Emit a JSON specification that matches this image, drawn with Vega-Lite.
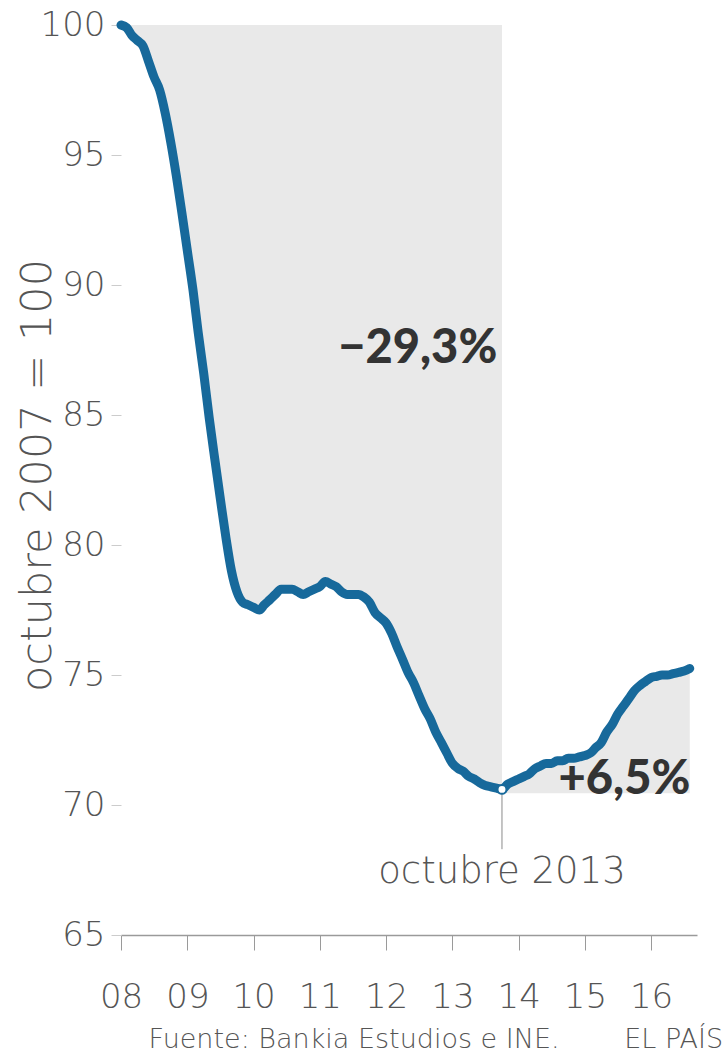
{
  "$schema": "https://vega.github.io/schema/vega-lite/v6.json",
  "width": 576,
  "height": 910,
  "autosize": {"type": "none"},
  "padding": {"left": 121, "top": 25, "right": 28, "bottom": 121},
  "background": "white",
  "config": {"view": {"stroke": null}},
  "datasets": {
    "serie": [
      {"date": "2008-01-01", "value": 100.0},
      {"date": "2008-02-01", "value": 99.9},
      {"date": "2008-03-01", "value": 99.6},
      {"date": "2008-04-01", "value": 99.4},
      {"date": "2008-05-01", "value": 99.2},
      {"date": "2008-06-01", "value": 98.6},
      {"date": "2008-07-01", "value": 98.0},
      {"date": "2008-08-01", "value": 97.5},
      {"date": "2008-09-01", "value": 96.6},
      {"date": "2008-10-01", "value": 95.5},
      {"date": "2008-11-01", "value": 94.2},
      {"date": "2008-12-01", "value": 92.8},
      {"date": "2009-01-01", "value": 91.3},
      {"date": "2009-02-01", "value": 89.8},
      {"date": "2009-03-01", "value": 88.2},
      {"date": "2009-04-01", "value": 86.6},
      {"date": "2009-05-01", "value": 84.9},
      {"date": "2009-06-01", "value": 83.3},
      {"date": "2009-07-01", "value": 81.8},
      {"date": "2009-08-01", "value": 80.3},
      {"date": "2009-09-01", "value": 79.0},
      {"date": "2009-10-01", "value": 78.2},
      {"date": "2009-11-01", "value": 77.8},
      {"date": "2009-12-01", "value": 77.7},
      {"date": "2010-01-01", "value": 77.6},
      {"date": "2010-02-01", "value": 77.5},
      {"date": "2010-03-01", "value": 77.7},
      {"date": "2010-04-01", "value": 77.9},
      {"date": "2010-05-01", "value": 78.1},
      {"date": "2010-06-01", "value": 78.3},
      {"date": "2010-07-01", "value": 78.3},
      {"date": "2010-08-01", "value": 78.3},
      {"date": "2010-09-01", "value": 78.2},
      {"date": "2010-10-01", "value": 78.1},
      {"date": "2010-11-01", "value": 78.2},
      {"date": "2010-12-01", "value": 78.3},
      {"date": "2011-01-01", "value": 78.4},
      {"date": "2011-02-01", "value": 78.6},
      {"date": "2011-03-01", "value": 78.5},
      {"date": "2011-04-01", "value": 78.4},
      {"date": "2011-05-01", "value": 78.2},
      {"date": "2011-06-01", "value": 78.1},
      {"date": "2011-07-01", "value": 78.1},
      {"date": "2011-08-01", "value": 78.1},
      {"date": "2011-09-01", "value": 78.0},
      {"date": "2011-10-01", "value": 77.8},
      {"date": "2011-11-01", "value": 77.4},
      {"date": "2011-12-01", "value": 77.2},
      {"date": "2012-01-01", "value": 77.0},
      {"date": "2012-02-01", "value": 76.6},
      {"date": "2012-03-01", "value": 76.1},
      {"date": "2012-04-01", "value": 75.6},
      {"date": "2012-05-01", "value": 75.1},
      {"date": "2012-06-01", "value": 74.7},
      {"date": "2012-07-01", "value": 74.2},
      {"date": "2012-08-01", "value": 73.7},
      {"date": "2012-09-01", "value": 73.3},
      {"date": "2012-10-01", "value": 72.8},
      {"date": "2012-11-01", "value": 72.4},
      {"date": "2012-12-01", "value": 72.0},
      {"date": "2013-01-01", "value": 71.6},
      {"date": "2013-02-01", "value": 71.4},
      {"date": "2013-03-01", "value": 71.3},
      {"date": "2013-04-01", "value": 71.1},
      {"date": "2013-05-01", "value": 71.0},
      {"date": "2013-06-01", "value": 70.85},
      {"date": "2013-07-01", "value": 70.75},
      {"date": "2013-08-01", "value": 70.7},
      {"date": "2013-09-01", "value": 70.65},
      {"date": "2013-10-01", "value": 70.6},
      {"date": "2013-11-01", "value": 70.8},
      {"date": "2013-12-01", "value": 70.9},
      {"date": "2014-01-01", "value": 71.0},
      {"date": "2014-02-01", "value": 71.1},
      {"date": "2014-03-01", "value": 71.2},
      {"date": "2014-04-01", "value": 71.4},
      {"date": "2014-05-01", "value": 71.5},
      {"date": "2014-06-01", "value": 71.6},
      {"date": "2014-07-01", "value": 71.6},
      {"date": "2014-08-01", "value": 71.7},
      {"date": "2014-09-01", "value": 71.7},
      {"date": "2014-10-01", "value": 71.8},
      {"date": "2014-11-01", "value": 71.8},
      {"date": "2014-12-01", "value": 71.85},
      {"date": "2015-01-01", "value": 71.9},
      {"date": "2015-02-01", "value": 72.0},
      {"date": "2015-03-01", "value": 72.2},
      {"date": "2015-04-01", "value": 72.4},
      {"date": "2015-05-01", "value": 72.8},
      {"date": "2015-06-01", "value": 73.1},
      {"date": "2015-07-01", "value": 73.5},
      {"date": "2015-08-01", "value": 73.8},
      {"date": "2015-09-01", "value": 74.1},
      {"date": "2015-10-01", "value": 74.4},
      {"date": "2015-11-01", "value": 74.6},
      {"date": "2015-12-01", "value": 74.75},
      {"date": "2016-01-01", "value": 74.9},
      {"date": "2016-02-01", "value": 74.95},
      {"date": "2016-03-01", "value": 75.0},
      {"date": "2016-04-01", "value": 75.0},
      {"date": "2016-05-01", "value": 75.05},
      {"date": "2016-06-01", "value": 75.1},
      {"date": "2016-07-01", "value": 75.15},
      {"date": "2016-08-01", "value": 75.25}
    ],
    "notas": [
      {"tipo": "caida", "label": "−29,3%", "date": "2013-09-05", "value": 87.0},
      {"tipo": "subida", "label": "+6,5%", "date": "2016-08-04", "value": 70.42},
      {"tipo": "fecha", "label": "octubre 2013", "date": "2013-10-01", "value": 67.0},
      {"tipo": "fuente", "label": "Fuente: Bankia Estudios e INE.", "date": "2008-06-01", "value": 60.95},
      {"tipo": "firma", "label": "EL PAÍS", "date": "2017-02-01", "value": 60.95}
    ],
    "guia": [
      {"date": "2013-10-01", "value": 70.6, "fin": 68.3}
    ]
  },
  "encoding": {
    "x": {
      "field": "date",
      "type": "temporal",
      "scale": {"domain": [{"year": 2008, "month": 1, "date": 1}, {"year": 2016, "month": 9, "date": 10}]},
      "axis": {
        "title": null,
        "format": "%y",
        "tickCount": {"interval": "year", "step": 1},
        "labelFlush": false,
        "labelOverlap": false,
        "domainColor": "#9a9a9a",
        "domainWidth": 1.5,
        "tickColor": "#9a9a9a",
        "tickWidth": 1,
        "tickSize": 15,
        "labelPadding": 30,
        "labelFont": "DejaVu Sans",
        "labelFontWeight": 200,
        "labelFontSize": 34,
        "labelColor": "#555555",
        "labelBaseline": "top",
        "grid": false
      }
    },
    "y": {
      "field": "value",
      "type": "quantitative",
      "scale": {"domain": [65, 100], "nice": false, "zero": false},
      "axis": {
        "values": [65, 70, 75, 80, 85, 90, 95, 100],
        "title": "octubre 2007 = 100",
        "titleFont": "DejaVu Sans",
        "titleFontWeight": 200,
        "titleFontSize": 43,
        "titleColor": "#555555",
        "titleX": -71,
        "titleY": 450,
        "titleBaseline": "alphabetic",
        "titleAngle": -90,
        "domain": false,
        "tickColor": "#cccccc",
        "tickSize": 10,
        "tickWidth": 1,
        "labelPadding": 6,
        "labelFont": "DejaVu Sans",
        "labelFontWeight": 200,
        "labelFontSize": 34,
        "labelColor": "#555555",
        "grid": false
      }
    }
  },
  "layer": [
    {
      "data": {"name": "serie"},
      "transform": [{"filter": "datum.date <= datetime(2013, 9, 15)"}],
      "mark": {"type": "area", "color": "#e9e9e9", "interpolate": "monotone"},
      "encoding": {"y2": {"datum": 100}}
    },
    {
      "data": {"name": "serie"},
      "transform": [{"filter": "datum.date >= datetime(2013, 8, 15)"}],
      "mark": {"type": "area", "color": "#e9e9e9", "interpolate": "monotone"},
      "encoding": {"y2": {"datum": 70.45}}
    },
    {
      "data": {"name": "guia"},
      "mark": {"type": "rule", "color": "#8a8a8a", "strokeWidth": 1},
      "encoding": {"y2": {"field": "fin"}}
    },
    {
      "data": {"name": "serie"},
      "mark": {"type": "line", "color": "#17699b", "strokeWidth": 9, "strokeCap": "round", "strokeJoin": "round", "interpolate": "monotone"},
      "encoding": {}
    },
    {
      "data": {"name": "guia"},
      "mark": {"type": "point", "filled": true, "fill": "white", "stroke": "#17699b", "strokeWidth": 2, "size": 80, "opacity": 1}
    },
    {
      "data": {"name": "notas"},
      "transform": [{"filter": "datum.tipo === 'caida' || datum.tipo === 'subida'"}],
      "mark": {"type": "text", "font": "Lato", "fontWeight": 900, "fontSize": 47, "color": "#333333", "align": "right", "baseline": "alphabetic"},
      "encoding": {"text": {"field": "label"}}
    },
    {
      "data": {"name": "notas"},
      "transform": [{"filter": "datum.tipo === 'fecha'"}],
      "mark": {"type": "text", "font": "DejaVu Sans", "fontWeight": 200, "fontSize": 37, "color": "#555555", "align": "center", "baseline": "alphabetic"},
      "encoding": {"text": {"field": "label"}}
    },
    {
      "data": {"name": "notas"},
      "transform": [{"filter": "datum.tipo === 'fuente'"}],
      "mark": {"type": "text", "font": "DejaVu Sans", "fontWeight": 200, "fontSize": 27, "color": "#555555", "align": "left", "baseline": "middle", "clip": false},
      "encoding": {"text": {"field": "label"}}
    },
    {
      "data": {"name": "notas"},
      "transform": [{"filter": "datum.tipo === 'firma'"}],
      "mark": {"type": "text", "font": "DejaVu Sans", "fontWeight": 200, "fontSize": 27, "color": "#555555", "align": "right", "baseline": "middle", "clip": false},
      "encoding": {"text": {"field": "label"}}
    }
  ]
}
